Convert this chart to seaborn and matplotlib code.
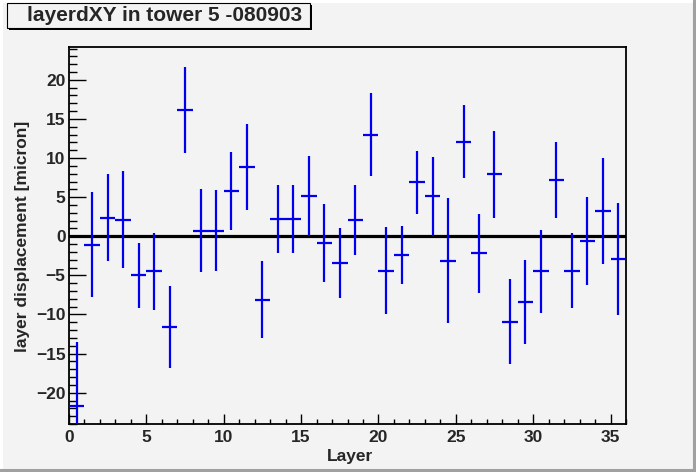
#! /usr/bin/env python3
# coding: utf-8
"""
Layer displacement (dXY) per layer in tower 5, ROOT-style error bar plot

Output:
  - out.png
"""
import numpy as np
import pandas as pd
import matplotlib.pyplot as plt
import seaborn as sb
from matplotlib.patches import Rectangle
from matplotlib.lines import Line2D

# values
layer = np.arange(36) + 0.5
displacement = [
    -21.7, -1.1, 2.4, 2.1, -5.0, -4.5, -11.6, 16.2, 0.7, 0.7,
    5.8, 8.9, -8.1, 2.2, 2.2, 5.2, -0.9, -3.4, 2.1, 13.0,
    -4.4, -2.4, 6.9, 5.1, -3.1, 12.1, -2.2, 7.9, -10.9, -8.4,
    -4.5, 7.2, -4.4, -0.6, 3.2, -2.9,
]
error = [
    8.2, 6.7, 5.5, 6.2, 4.2, 4.9, 5.2, 5.5, 5.3, 5.2,
    5.0, 5.5, 4.9, 4.4, 4.4, 5.1, 5.0, 4.5, 4.5, 5.3,
    5.6, 3.7, 4.0, 5.1, 8.0, 4.7, 5.0, 5.5, 5.4, 5.4,
    5.3, 4.9, 4.8, 5.6, 6.8, 7.2,
]
title = 'layerdXY in tower 5 -080903'

BG = '#f3f3f3'
W, H = 696, 472
FS = 12.5

if __name__ == '__main__':
    data = pd.DataFrame({'layer': layer, 'disp': displacement, 'err': error})

    sb.set_style('ticks', {'axes.facecolor': BG, 'figure.facecolor': BG})
    plt.rcParams['font.family'] = ['Liberation Sans', 'DejaVu Sans']
    plt.rcParams['font.weight'] = 'bold'

    fig = plt.figure(figsize=(W / 100, H / 100), dpi=100)
    ax = fig.add_axes([69 / W, 1 - 424 / H, 557 / W, 377 / H])

    # zero line
    ax.axhline(0, color='black', linewidth=2.3, zorder=2)

    # error bars: horizontal = bin width, vertical = error
    ax.errorbar(data['layer'], data['disp'], xerr=0.5, yerr=data['err'],
                fmt='none', ecolor='#0000ee', elinewidth=1.6, capsize=0, zorder=3)

    ax.set_xlim(0, 36)
    ax.set_ylim(-24.0, 24.2)
    ax.set_xticks(np.arange(0, 36, 5))
    ax.set_xticks(np.arange(0, 37, 1), minor=True)
    ax.set_yticks(np.arange(-20, 21, 5))
    ax.set_yticks(np.arange(-24, 25, 1), minor=True)

    ax.tick_params(axis='both', which='both', direction='in', top=False, right=False,
                   color='black', labelsize=FS)
    ax.tick_params(axis='y', which='major', length=12.5, width=1, pad=2.5)
    ax.tick_params(axis='y', which='minor', length=5.5, width=1)
    ax.tick_params(axis='x', which='major', length=7.5, width=1, pad=4)
    ax.tick_params(axis='x', which='minor', length=3.8, width=1)
    for lab in ax.get_xticklabels() + ax.get_yticklabels():
        lab.set_fontweight('bold')

    for side in ['top', 'right', 'bottom', 'left']:
        ax.spines[side].set_color('black')
        ax.spines[side].set_linewidth(1.3)

    fig.text(350 / W, 1 - 457 / H, 'Layer', ha='center', va='center',
             fontsize=FS, fontweight='bold')
    fig.text(23 / W, 1 - 236 / H, 'layer displacement [micron]', ha='center', va='center',
             rotation=90, fontsize=FS, fontweight='bold')

    # title box with shadow
    fig.patches.append(Rectangle((9 / W, 1 - 30 / H), 303 / W, 25 / H,
                                 transform=fig.transFigure, facecolor='black',
                                 edgecolor='none', zorder=1))
    fig.patches.append(Rectangle((7 / W, 1 - 28 / H), 303 / W, 25 / H,
                                 transform=fig.transFigure, facecolor=BG,
                                 edgecolor='black', linewidth=0.8, zorder=2))
    fig.text(27 / W, 1 - 15.5 / H, title, ha='left', va='center',
             fontsize=15, fontweight='bold', zorder=3)

    # canvas bevel border
    for xs, ys, c in [([0, 1], [1 - 1 / H, 1 - 1 / H], 'white'),
                      ([1 / W, 1 / W], [0, 1], 'white'),
                      ([0, 1], [2 / H, 2 / H], '#a0a0a0'),
                      ([1 - 2 / W, 1 - 2 / W], [0, 1], '#a0a0a0')]:
        fig.lines.append(Line2D(xs, ys, transform=fig.transFigure, color=c, linewidth=2.2))

    fig.savefig('out.png', dpi=100, facecolor=BG)
